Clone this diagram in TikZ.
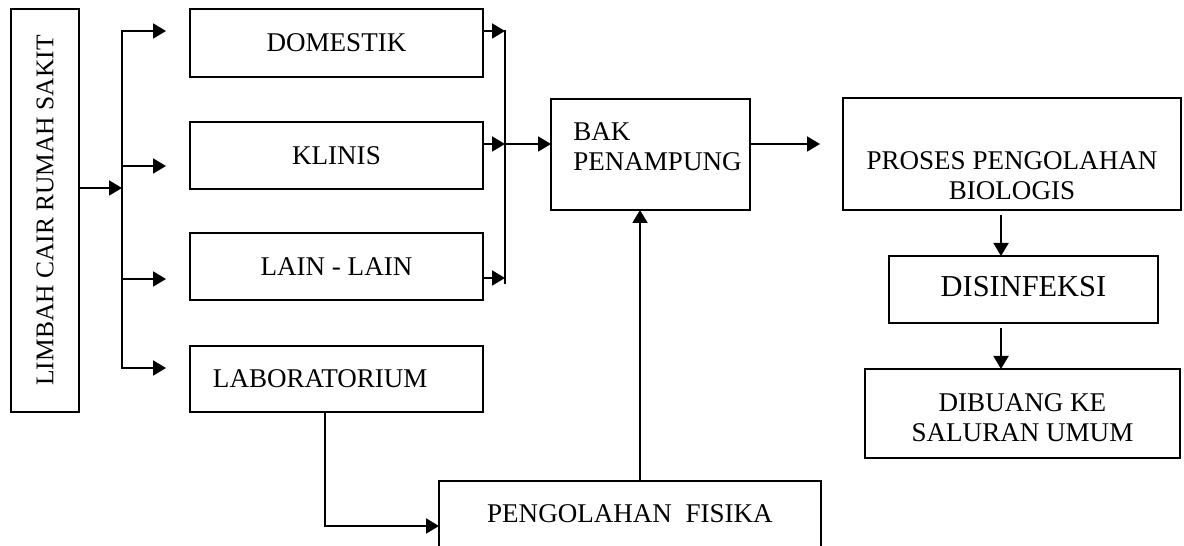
\documentclass[tikz,border=0pt]{standalone}
\usepackage{fontspec}
\setmainfont{Liberation Serif}
\usetikzlibrary{arrows.meta}
\tikzset{
	kotak/.style={draw, line width=1.1pt, inner sep=0pt, outer sep=0pt, anchor=north west, font=\fontsize{15.4}{17.6}\selectfont},
	panah/.style={line width=1.1pt, -{Triangle[length=0.26cm,width=0.3cm]}},
	garis/.style={line width=1.1pt, line cap=rect}
}
\begin{document}
\begin{tikzpicture}[x=0.02cm, y=-0.02cm]
	\useasboundingbox (0,0) rectangle (1184,546);
	%sumber
	\node[kotak, minimum width=1.36cm, minimum height=8.06cm, font=\fontsize{14.5}{17}\selectfont] (limbah) at (11,9) {\rotatebox{90}{LIMBAH CAIR RUMAH SAKIT}};
	%jenis limbah
	\node[kotak, minimum width=5.86cm, minimum height=1.36cm] (dom) at (190,9) {DOMESTIK};
	\node[kotak, minimum width=5.86cm, minimum height=1.34cm] (kli) at (190,122) {KLINIS};
	\node[kotak, minimum width=5.86cm, minimum height=1.34cm] (lain) at (190,233) {LAIN - LAIN};
	\node[kotak, minimum height=1.32cm, text width=4.94cm, inner xsep=0.46cm, align=left] (lab) at (190,346) {LABORATORIUM};
	%pengolahan
	\node[kotak, minimum width=3.98cm, text height=1.44cm, text depth=0.78cm] (bak) at (551,99)
	{\begin{tabular}[b]{@{\hspace{0.44cm}}l@{\hspace{0.16cm}}}BAK\\PENAMPUNG\end{tabular}};
	\node[kotak, minimum width=6.76cm, text height=2.04cm, text depth=0.2cm] (proses) at (843,98)
	{\begin{tabular}[b]{@{}c@{}}PROSES PENGOLAHAN\\BIOLOGIS\end{tabular}};
	\node[kotak, minimum width=5.38cm, text height=0.82cm, text depth=0.52cm, font=\fontsize{17.3}{20}\selectfont] (disinf) at (889,256) {DISINFEKSI};
	\node[kotak, minimum width=6.3cm, text height=1.46cm, text depth=0.32cm] (buang) at (865,369)
	{\begin{tabular}[b]{@{}c@{}}DIBUANG KE\\SALURAN UMUM\end{tabular}};
	\node[kotak, minimum width=7.64cm, text height=0.84cm, text depth=0.74cm] (fisika) at (439,481) {PENGOLAHAN\ \ FISIKA};
	%cabang
	\coordinate (pisah) at (122,188);
	\draw[panah] (limbah.east |- pisah) -- (pisah);
	\foreach \y [count=\i] in {31,166,279,368}
	{
		\coordinate (c\i) at (122,\y);
		\coordinate (t\i) at (166,\y);
		\draw[panah] (c\i) -- (t\i);
	}
	\draw[garis] (c1) -- (c4);
	%gabung
	\coordinate (m1) at (505,31);
	\coordinate (m2) at (505,144);
	\coordinate (m3) at (505,278);
	\coordinate (mbawah) at (505,283);
	\draw[panah] (dom.east |- m1) -- (m1);
	\draw[panah] (kli.east |- m2) -- (m2);
	\draw[panah] (lain.east |- m3) -- (m3);
	\draw[garis] (m1) -- (mbawah);
	\draw[panah] (m2) -- (bak.west |- m2);
	%alur
	\coordinate (keproses) at (820,144);
	\draw[panah] (bak.east |- m2) -- (keproses);
	\coordinate (p1) at (1001,215);
	\draw[panah] (p1) -- (p1 |- disinf.north);
	\coordinate (p2) at (1001,328);
	\draw[panah] (p2) -- (p2 |- buang.north);
	\coordinate (belok) at (325,526);
	\draw[panah] (lab.south -| belok) -- (belok) -- (fisika.west |- belok);
	\coordinate (naik) at (640,481);
	\draw[panah] (naik) -- (naik |- bak.south);
\end{tikzpicture}
\end{document}
